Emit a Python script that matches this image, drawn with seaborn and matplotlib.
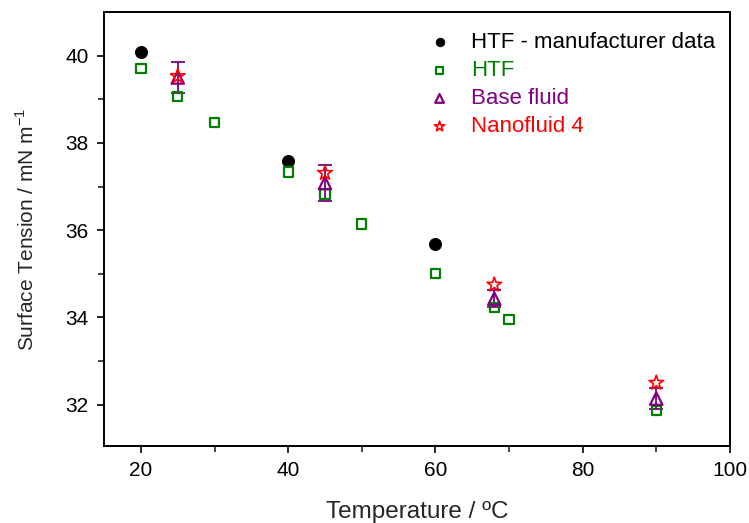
import numpy as np
import pandas as pd
import seaborn as sns
import matplotlib.pyplot as plt

# data
t_manuf = [20, 40, 60]
st_manuf = [40.09, 37.59, 35.69]

t_htf = [20, 25, 30, 40, 45, 50, 60, 68, 70, 90]
st_htf = [39.71, 39.06, 38.47, 37.33, 36.83, 36.14, 35.0, 34.22, 33.95, 31.86]

t_base = [25, 45, 68, 90]
st_base = [39.5, 37.08, 34.43, 32.14]
err_base = [0.35, 0.41, 0.2, 0.25]

t_nano = [25, 45, 68, 90]
st_nano = [39.53, 37.31, 34.75, 32.5]

sns.set_style("ticks")
plt.rcParams["font.family"] = ["Liberation Sans", "DejaVu Sans"]

fig = plt.figure(figsize=(7.49, 5.23), dpi=100)
ax = fig.add_axes([0.139, 0.147, 0.8355, 0.83])

green = "#008000"
purple = "#800080"
red = "#ff0000"

ax.errorbar(t_base, st_base, yerr=err_base, fmt="none", ecolor=purple,
            elinewidth=1.3, capsize=5, capthick=1.3, zorder=2)

sns.scatterplot(x=t_manuf, y=st_manuf, ax=ax, marker="o", s=75, color="black",
                edgecolor="black", label="HTF - manufacturer data", zorder=3)
sns.scatterplot(x=t_htf, y=st_htf, ax=ax, marker="s", s=45, facecolor="none",
                edgecolor=green, linewidth=1.6, label="HTF", zorder=3)
sns.scatterplot(x=t_base, y=st_base, ax=ax, marker="^", s=80, facecolor="none",
                edgecolor=purple, linewidth=1.6, label="Base fluid", zorder=4)
sns.scatterplot(x=t_nano, y=st_nano, ax=ax, marker="*", s=120, facecolor="none",
                edgecolor=red, linewidth=1.2, label="Nanofluid 4", zorder=5)

ax.set_xlim(15, 100)
ax.set_ylim(31.05, 41)
ax.set_xticks([20, 40, 60, 80, 100])
ax.set_xticks([30, 50, 70, 90], minor=True)
ax.set_yticks([32, 34, 36, 38, 40])
ax.set_yticks([33, 35, 37, 39], minor=True)
ax.tick_params(axis="both", which="major", direction="out", length=5, width=1.2,
               labelsize=15, colors="black", top=False, right=False, pad=6)
ax.tick_params(axis="both", which="minor", direction="out", length=4, width=1.2,
               top=False, right=False)
for sp in ax.spines.values():
    sp.set_visible(True)
    sp.set_linewidth(1.4)
    sp.set_color("black")

ax.set_xlabel("Temperature / ºC", fontsize=17.5, labelpad=15)
ax.set_ylabel("Surface Tension / mN m$^{\\mathregular{-1}}$", fontsize=15, labelpad=20)

leg = ax.legend(loc="upper right", bbox_to_anchor=(1.008, 1.0), frameon=False,
                fontsize=16, handletextpad=0.4, labelspacing=0.32,
                markerscale=0.7, borderaxespad=0.5)
for txt, c in zip(leg.get_texts(), ["black", green, purple, red]):
    txt.set_color(c)

fig.savefig("out.png", dpi=100)
